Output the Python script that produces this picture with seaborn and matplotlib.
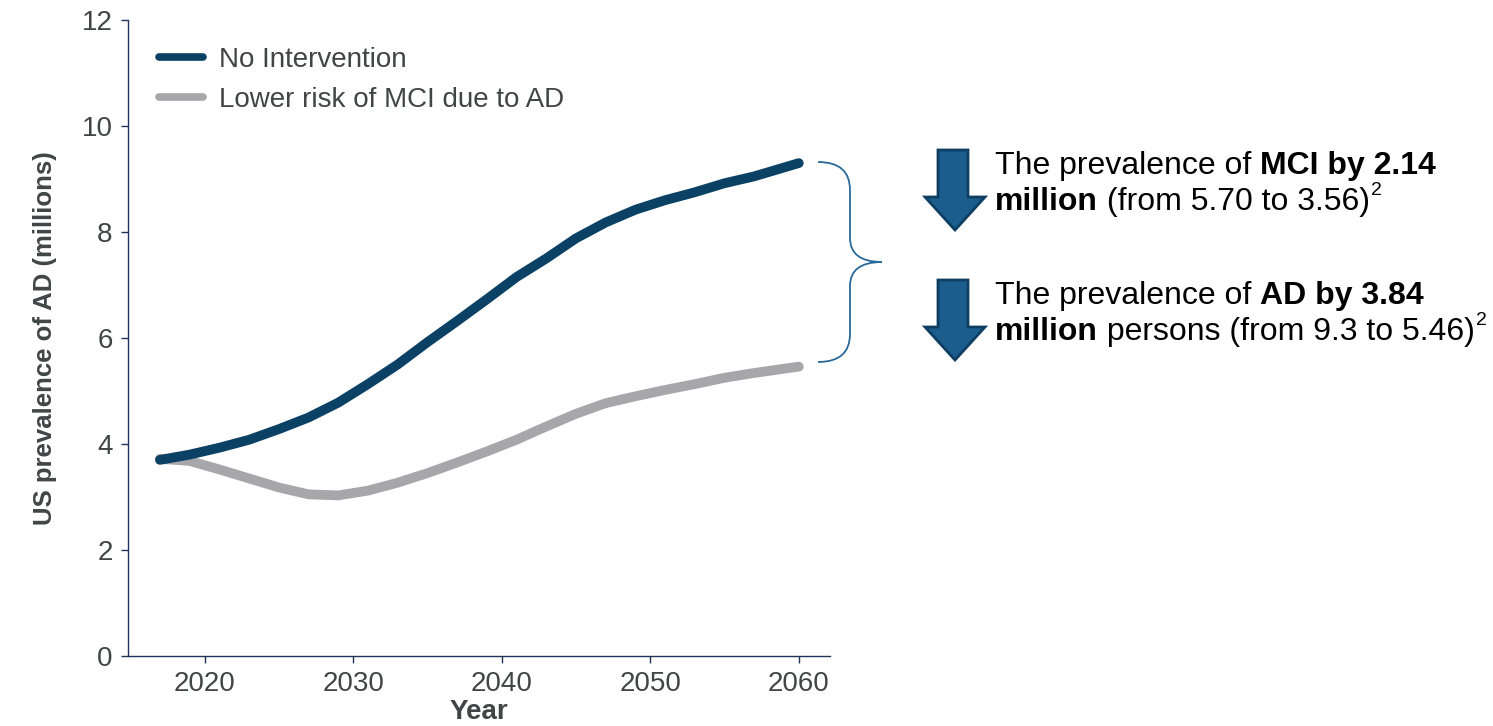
import pandas as pd
import matplotlib
matplotlib.use("Agg")
import matplotlib.pyplot as plt
from matplotlib.patches import Polygon, PathPatch
from matplotlib.path import Path
import seaborn as sns

# data (millions)
years = [2017, 2019, 2021, 2023, 2025, 2027, 2029, 2031, 2033, 2035, 2037,
         2039, 2041, 2043, 2045, 2047, 2049, 2051, 2053, 2055, 2057, 2060]
no_intervention = [3.70, 3.80, 3.93, 4.08, 4.28, 4.50, 4.78, 5.13, 5.50, 5.92, 6.32,
                   6.73, 7.15, 7.50, 7.88, 8.18, 8.42, 8.60, 8.75, 8.92, 9.05, 9.30]
lower_risk = [3.72, 3.68, 3.52, 3.35, 3.18, 3.05, 3.03, 3.12, 3.27, 3.45, 3.65,
              3.86, 4.08, 4.33, 4.57, 4.77, 4.90, 5.02, 5.13, 5.25, 5.34, 5.46]
series_names = ["No Intervention", "Lower risk of MCI due to AD"]
x_ticks = [2020, 2030, 2040, 2050, 2060]
y_ticks = [0, 2, 4, 6, 8, 10, 12]

df = pd.DataFrame({
    "Year": years * 2,
    "value": no_intervention + lower_risk,
    "scenario": [series_names[0]] * len(years) + [series_names[1]] * len(years),
})

sns.set_style("white")
plt.rcParams["font.family"] = ["Liberation Sans", "DejaVu Sans"]

text_col = "#404545"
spine_col = "#1F3358"
dark = "#0C4166"
grey = "#A7A7AB"

fig = plt.figure(figsize=(14.93, 7.26), dpi=100)
ax = fig.add_axes([128 / 1493, 1 - 656 / 726, (830 - 128) / 1493, (656 - 20) / 726])

sns.lineplot(data=df, x="Year", y="value", hue="scenario", palette=[dark, grey],
             hue_order=series_names, linewidth=7, ax=ax, legend=True)
for ln in ax.lines:
    ln.set_solid_capstyle("round")
ax.lines[0].set_zorder(3)

ax.set_xlim(2014.85, 2062.1)
ax.set_ylim(0, 12)
ax.set_xticks(x_ticks)
ax.set_yticks(y_ticks)
ax.tick_params(axis="both", length=5, width=1, color=spine_col, labelsize=20,
               labelcolor=text_col, direction="out", pad=6)
ax.xaxis.set_ticks_position("bottom")
ax.yaxis.set_ticks_position("left")
for s in ["top", "right"]:
    ax.spines[s].set_visible(False)
for s in ["left", "bottom"]:
    ax.spines[s].set_color(spine_col)
    ax.spines[s].set_linewidth(1)

ax.set_xlabel("Year", fontsize=20, fontweight="bold", color=text_col, labelpad=1)
ax.set_ylabel("US prevalence of AD (millions)", fontsize=18.5, fontweight="bold",
              color=text_col, labelpad=18)

leg = ax.legend(loc="upper left", bbox_to_anchor=(0.044, 0.958), frameon=False,
                fontsize=20, handlelength=1.6, handletextpad=0.55, labelspacing=0.52,
                borderpad=0, borderaxespad=0)
for t in leg.get_texts():
    t.set_color(text_col)
for h in leg.get_lines():
    h.set_linewidth(5.5)
    h.set_solid_capstyle("round")

# overlay in pixel coords for brace, arrows and notes
ov = fig.add_axes([0, 0, 1, 1], zorder=5)
ov.set_xlim(0, 1493)
ov.set_ylim(726, 0)
ov.axis("off")

brace = [
    (818, 162), (850, 162), (850, 190),
    (850, 238),
    (850, 262), (882, 262),
    (850, 262), (850, 286),
    (850, 334),
    (850, 362), (818, 362),
]
codes = [Path.MOVETO, Path.CURVE3, Path.CURVE3, Path.LINETO, Path.CURVE3, Path.CURVE3,
         Path.CURVE3, Path.CURVE3, Path.LINETO, Path.CURVE3, Path.CURVE3]
ov.add_patch(PathPatch(Path(brace, codes), fill=False, edgecolor="#2A6A9A", lw=1.3))

for top in [150, 280]:
    pts = [(938, top), (968, top), (968, top + 47), (985, top + 47), (955, top + 80),
           (925, top + 47), (938, top + 47)]
    ov.add_patch(Polygon(pts, closed=True, facecolor="#1B5E8E", edgecolor="#0E3F62", lw=2))

fig.canvas.draw()
renderer = fig.canvas.get_renderer()


def write_line(x, y, parts):
    for txt, bold in parts:
        if txt == "^2":
            t = ov.text(x + 1, y - 15, "2", fontsize=14, color="black", va="baseline")
        else:
            t = ov.text(x, y, txt, fontsize=23, color="black", va="baseline",
                        fontweight="bold" if bold else "normal")
        x += t.get_window_extent(renderer).width


write_line(995, 174, [("The prevalence of ", False), ("MCI by 2.14", True)])
write_line(995, 210, [("million", True), (" (from 5.70 to 3.56)", False), ("^2", False)])
write_line(995, 304, [("The prevalence of ", False), ("AD by 3.84", True)])
write_line(995, 340, [("million", True), (" persons (from 9.3 to 5.46)", False), ("^2", False)])

fig.savefig("out.png", dpi=100)
